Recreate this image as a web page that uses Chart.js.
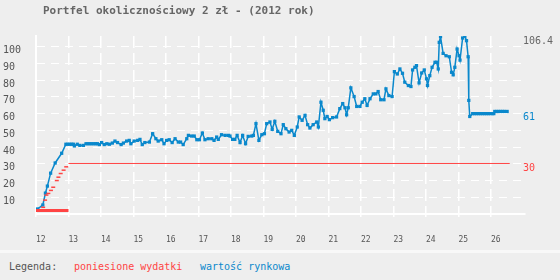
<!DOCTYPE html>
<html>
<head>
<meta charset="utf-8">
<script src="https://cdn.jsdelivr.net/npm/chart.js@4"></script>
<style>
  body { margin: 0; background: #eeeeee; font-family: "DejaVu Sans Mono", monospace; }
  #wrap { position: relative; width: 560px; height: 280px; overflow: hidden; }
  #title { position: absolute; left: 43px; top: 4px; font-size: 11px; font-weight: bold; color: #666; white-space: pre; }
  #box { position: absolute; left: 0; top: 0; width: 560px; height: 250px; }
  #stripe { position: absolute; left: 0; top: 250px; width: 560px; height: 3px; background: #f8f8f8; }
  .leg { position: absolute; top: 261px; font-size: 10px; color: #555; white-space: pre; }
  .red { color: #ff4444; }
  .blue { color: #0a88cc; }
</style>
</head>
<body>
<div id="wrap">
  <div id="box"><canvas id="myChart" width="560" height="250"></canvas></div>
  <div id="title">Portfel okolicznościowy 2 zł - (2012 rok)</div>
  <div id="stripe"></div>
  <span class="leg" style="left:9px">Legenda:</span>
  <span class="leg red" style="left:74px">poniesione wydatki</span>
  <span class="leg blue" style="left:200px">wartość rynkowa</span>
</div>
<script>
(() => {
  'use strict'

// market value (blue), x in months
var valueX = [12.05, 12.21, 12.29, 12.35, 12.45, 12.59, 12.79, 12.92, 12.98, 13.04, 13.1, 13.15, 13.18, 13.27, 13.35, 13.46,
  13.54, 13.6, 13.66, 13.72, 13.78, 13.84, 13.89, 13.95, 14.02, 14.1, 14.18, 14.26, 14.35, 14.43, 14.51, 14.62, 14.69,
  14.79, 14.87, 14.92, 15.02, 15.13, 15.2, 15.27, 15.35, 15.49, 15.59, 15.69, 15.76, 15.87, 15.94, 16.02, 16.1, 16.19,
  16.28, 16.38, 16.45, 16.53, 16.64, 16.69, 16.79, 16.87, 16.95, 17.03, 17.12, 17.2, 17.3, 17.41, 17.48, 17.56, 17.61,
  17.71, 17.82, 17.92, 17.97, 18.05, 18.12, 18.19, 18.28, 18.36, 18.45, 18.53, 18.64, 18.69, 18.77, 18.86, 18.95, 19.03,
  19.1, 19.2, 19.27, 19.35, 19.44, 19.54, 19.61, 19.69, 19.79, 19.87, 19.95, 20.04, 20.1, 20.19, 20.28, 20.36, 20.43,
  20.53, 20.64, 20.69, 20.77, 20.84, 20.89, 20.96, 21.03, 21.13, 21.25, 21.35, 21.44, 21.51, 21.56, 21.61, 21.69, 21.79,
  21.87, 21.97, 22.04, 22.12, 22.19, 22.28, 22.38, 22.46, 22.53, 22.61, 22.71, 22.77, 22.86, 22.96, 23.03, 23.12, 23.2,
  23.28, 23.35, 23.46, 23.54, 23.59, 23.66, 23.71, 23.79, 23.87, 23.95, 24.02, 24.05, 24.12, 24.19, 24.28, 24.33, 24.38,
  24.41, 24.45, 24.53, 24.62, 24.72, 24.79, 24.84, 24.89, 24.96, 25.02, 25.05, 25.13, 25.2, 25.25, 25.3, 25.32, 25.35,
  25.44, 25.5, 25.56, 25.62, 25.68, 25.74, 25.8, 25.86, 25.92, 25.98, 26.04, 26.09, 26.12, 26.18, 26.24, 26.3, 26.36,
  26.42, 26.5];
var valueY = [3.0, 5.4, 12.5, 16.7, 24.4, 30.5, 36.3, 41.7, 41.7, 41.7, 41.7, 41.7, 40.7, 41.7, 41, 41,
  42, 42, 42, 42, 42, 42, 42, 41.5, 42.7, 41.5, 42, 41.7, 42.4, 43.6, 42.7, 41.5, 42.4,
  43.6, 44, 42, 43.6, 44, 44.6, 41.5, 42.7, 43, 48, 45, 43.6, 44.4, 42, 44, 44.4, 42.7,
  45, 43, 43, 41.5, 45, 47, 46.6, 46.6, 44.4, 44.4, 48.4, 44.4, 45, 45, 44, 46, 44.6,
  47.4, 47, 47, 46.6, 44.6, 44.6, 47, 42.7, 47, 42, 46.4, 46.6, 47, 54, 44, 47.4, 48,
  54, 55, 50.6, 55.4, 49.4, 48, 53.4, 51, 49, 50, 47, 52, 58, 56, 59, 53.4, 51.4,
  53.4, 55, 52, 66.8, 62, 57, 58.3, 56.4, 57.6, 58, 63, 66, 63.5, 59.3, 63.5, 75.4, 70.2,
  64.3, 64.3, 66.8, 68.9, 64.9, 68.9, 71.8, 71.8, 73.2, 68.3, 68.3, 74.8, 70.8, 70.2, 85.1, 83.7, 86.7,
  84.1, 78.8, 76.8, 76.2, 86.1, 87.7, 88.7, 78.4, 84.3, 86.1, 80.8, 76.8, 82.7, 87.7, 90.7, 90.7, 86.7,
  102.6, 106, 96, 94.6, 94, 84.7, 83.2, 87.7, 98.6, 94.6, 92, 105.2, 106.4, 103.6, 94, 67.9, 58.3,
  60, 60, 60, 60, 60, 60, 60, 60, 60, 60, 60, 60, 61.3, 61.3, 61.3, 61.3, 61.3,
  61.3, 61.3];

// expenses (red): purchase steps, then the flat total
var spentX = [12.22, 12.28, 12.32, 12.38, 12.46, 12.53, 12.64, 12.69, 12.76, 12.85, 12.93];
var spentY = [4, 8.3, 11.3, 12.3, 14.1, 16, 20, 22, 24.2, 26.2, 28.2];
var totalX = [13, 26.58];
var totalY = [30.2, 30.2];
// single purchases along the bottom
var buyX = [12, 13];
var buyY = [2.1, 2.1];

// numbers printed at the right edge
var sideValues = [106.4, 61, 30];
var sideTexts = ['106.4', '61', '30'];
var sideColors = ['#666666', '#0a88cc', '#ff4444'];

var xTicks = [12, 13, 14, 15, 16, 17, 18, 19, 20, 21, 22, 23, 24, 25, 26];
var yTicks = [10, 20, 30, 40, 50, 60, 70, 80, 90, 100];

function pts(xs, ys) {
  return xs.map(function (x, i) { return { x: x, y: ys[i] }; });
}

var BLUE = '#0a88cc';
var RED = '#ff4444';

var sideLabels = {
  id: 'sideLabels',
  afterDraw: function (chart) {
    var c = chart.ctx;
    var y = chart.scales.y;
    c.save();
    c.font = '10px "DejaVu Sans Mono"';
    c.textAlign = 'left';
    c.textBaseline = 'middle';
    sideValues.forEach(function (v, i) {
      c.fillStyle = sideColors[i];
      c.fillText(sideTexts[i], chart.chartArea.right - 2, y.getPixelForValue(v) + 5);
    });
    c.restore();
  }
};

var ctx = document.getElementById('myChart').getContext('2d');
var myChart = new Chart(ctx, {
  type: 'line',
  data: {
    datasets: [{
      data: pts(buyX, buyY),
      borderColor: RED,
      borderWidth: 3,
      pointRadius: 0
    }, {
      data: pts(totalX, totalY),
      borderColor: RED,
      borderWidth: 1,
      pointRadius: 0
    }, {
      data: pts(spentX, spentY),
      showLine: false,
      pointStyle: 'line',
      pointRadius: 2,
      borderColor: RED,
      borderWidth: 1.5
    }, {
      data: pts(valueX, valueY),
      borderColor: BLUE,
      backgroundColor: BLUE,
      borderWidth: 1.5,
      pointStyle: 'rect',
      pointRadius: 2.3,
      pointBorderWidth: 0,
      tension: 0
    }]
  },
  options: {
    responsive: false,
    animation: false,
    layout: { padding: { top: 36, right: 35, left: 3, bottom: 0 } },
    plugins: { legend: { display: false }, tooltip: { enabled: false } },
    scales: {
      x: {
        type: 'linear',
        min: 12,
        max: 27.05,
        afterBuildTicks: function (s) { s.ticks = xTicks.map(function (v) { return { value: v }; }); },
        afterFit: function (s) { s.height = 36; },
        grid: { color: '#ffffff', lineWidth: 1.5, tickLength: 3 },
        border: { color: '#ffffff', width: 2, dash: [12, 5] },
        ticks: {
          align: 'start',
          padding: 18,
          color: '#555555',
          font: { family: 'DejaVu Sans Mono', size: 8 },
          maxRotation: 0
        }
      },
      y: {
        min: 0,
        max: 106.4,
        afterBuildTicks: function (s) { s.ticks = yTicks.map(function (v) { return { value: v }; }); },
        afterFit: function (s) { s.width = 33; },
        grid: { color: '#ffffff', lineWidth: 1, drawTicks: false },
        border: { color: '#ffffff', width: 2, dash: [8, 6] },
        ticks: {
          crossAlign: 'far',
          padding: 0,
          labelOffset: 4,
          color: '#555555',
          font: { family: 'DejaVu Sans Mono', size: 10 }
        }
      }
    }
  },
  plugins: [sideLabels]
})
})()
</script>
</body>
</html>
